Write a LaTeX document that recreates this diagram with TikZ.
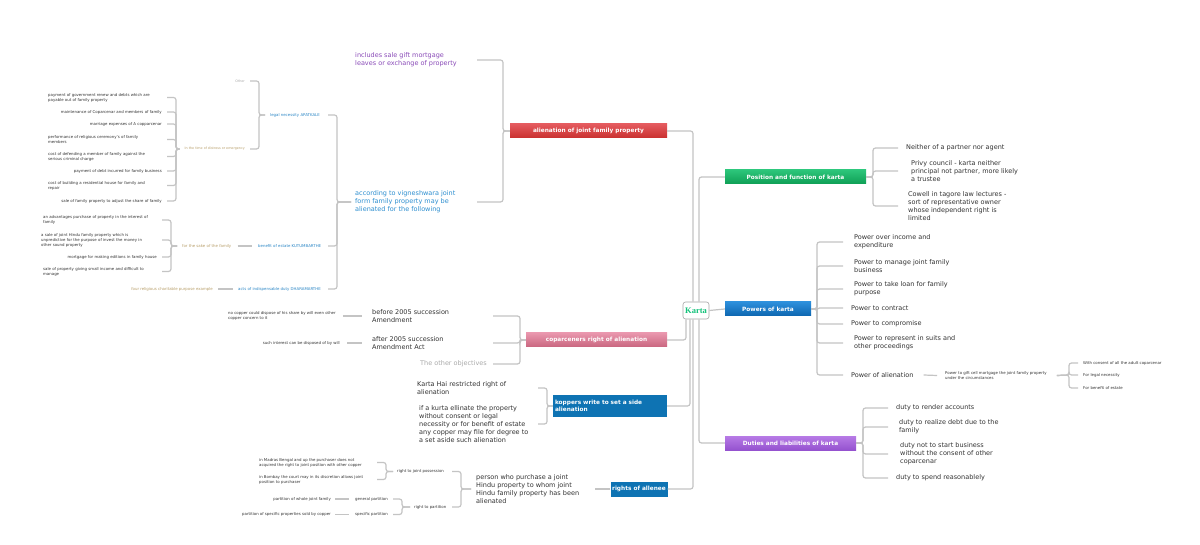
\documentclass[tikz,border=0pt]{standalone}
\usepackage{fontspec}
\setmainfont{DejaVu Sans}
\newfontfamily\kartafont{Liberation Serif}
\definecolor{lineg}{HTML}{C4C4C4}
\definecolor{txt}{HTML}{333333}
\definecolor{purp}{HTML}{8A4BB8}
\definecolor{mblue}{HTML}{2E8FD0}
\definecolor{sblue}{HTML}{2A86C6}
\definecolor{tant}{HTML}{B89F6A}
\definecolor{grayt}{HTML}{AAAAAA}
\definecolor{kgreen}{HTML}{12C27A}
\definecolor{redT}{HTML}{E45A5E}
\definecolor{redB}{HTML}{C9302F}
\definecolor{greenT}{HTML}{2CC57A}
\definecolor{greenB}{HTML}{0F9F55}
\definecolor{blueT}{HTML}{2D8FDB}
\definecolor{blueB}{HTML}{0D66B0}
\definecolor{pinkT}{HTML}{E996AD}
\definecolor{pinkB}{HTML}{C9667F}
\definecolor{kblue}{HTML}{0E73B3}
\definecolor{purpT}{HTML}{B77BE6}
\definecolor{purpB}{HTML}{9552CF}
\tikzset{
 conn/.style={draw=lineg, line width=1.2pt, rounded corners=2.5pt},
 med/.style={font=\fontsize{6.5}{8}\selectfont, text=txt, inner sep=1pt, align=left},
 tiny/.style={font=\fontsize{3.9}{5}\selectfont, text=txt, inner sep=1pt, align=left},
 tinier/.style={font=\fontsize{3.3}{4.5}\selectfont, inner sep=1pt, align=left},
 topic/.style={font=\fontsize{5.8}{7}\selectfont\bfseries, text=white, minimum height=14pt, inner sep=0pt},
 karta/.style={draw=black!35, fill=white, rounded corners=2.5pt, minimum width=26pt, minimum height=17pt, inner sep=0pt, line width=0.6pt, font=\kartafont\bfseries\fontsize{8.5}{9}\selectfont, text=kgreen},
}
\begin{document}
\begin{tikzpicture}[x=1pt,y=-1pt]
\fill[white] (0,0) rectangle (1200,545);
\useasboundingbox (0,0) rectangle (1200,545);

% central and topics
\node[karta] (k) at (696,310.5) {Karta};
\node[topic, minimum width=157pt, top color=redT, bottom color=redB] (al) at (588.5,131) {alienation of joint family property};
\node[topic, minimum width=141pt, top color=greenT, bottom color=greenB] (pos) at (795.5,177) {Position and function of karta};
\node[topic, minimum width=86pt, top color=blueT, bottom color=blueB] (pow) at (768,309) {Powers of karta};
\node[topic, minimum width=141pt, top color=pinkT, bottom color=pinkB] (cop) at (596.5,340) {coparceners right of alienation};
\node[topic, minimum width=114pt, minimum height=22pt, fill=kblue, text width=110pt, inner xsep=2pt, align=left] (kop) at (610,406) {koppers write to set a side\\alienation};
\node[topic, minimum width=131pt, top color=purpT, bottom color=purpB] (dut) at (790.5,443) {Duties and liabilities of karta};
\node[topic, minimum width=57pt, minimum height=15pt, fill=kblue] (ra) at (639,489) {rights of allenee};

\draw[conn] ([xshift=-3pt]k.north) |- (al.east);
\draw[conn] ([xshift=3pt]k.north) |- (pos.west);
\draw[conn] (k.east) -- (pow.west);
\draw[conn] ([xshift=-10pt]k.south) |- (cop.east);
\draw[conn] ([xshift=-6pt]k.south) |- (kop.east);
\draw[conn] ([xshift=-3pt]k.south) |- (ra.east);
\draw[conn] ([xshift=3pt]k.south) |- (dut.west);

% alienation subtree
\coordinate (alB) at (503,131);
\coordinate (alS) at (477,131);
\node[med, text=purp, anchor=west] (inc) at (354,60) {includes sale gift mortgage\\leaves or exchange of property};
\node[med, text=mblue, anchor=west] (acc) at (354,202) {according to vigneshwara joint\\form family property may be\\alienated for the following};
\draw[conn] (al.west) -- (alB) |- (alS |- inc.east);
\draw[conn] (al.west) -- (alB) |- (alS |- acc.east);

\coordinate (accB) at (337,202);
\coordinate (accS) at (328,202);
\node[tiny, text=sblue, anchor=west] (leg) at (269,115) {legal necessity APATKALE};
\node[tiny, text=sblue, anchor=west] (ben) at (257,246) {benefit of estate KUTUMBARTHE};
\node[tiny, text=sblue, anchor=west] (act) at (237,289) {acts of indispensable duty DHARAMARTHE};
\draw[conn] ([xshift=-3pt]acc.west) -- (accB) |- (accS |- leg.east);
\draw[conn] ([xshift=-3pt]acc.west) -- (accB) |- (accS |- ben.east);
\draw[conn] ([xshift=-3pt]acc.west) -- (accB) |- (accS |- act.east);

\coordinate (legB) at (259,115);
\coordinate (legS) at (250,115);
\node[tinier, text=grayt, anchor=east] (oth) at (246,81) {Other};
\node[tinier, text=tant, anchor=east] (dist) at (246,149) {In the time of distress or emergency};
\draw[conn] ([xshift=-4pt]leg.west) -- (legB) |- (legS |- oth.east);
\draw[conn] ([xshift=-4pt]leg.west) -- (legB) |- (legS |- dist.east);

\coordinate (distB) at (176,149);
\coordinate (distS) at (167,149);
\node[tiny, anchor=west] (d1) at (47,97.5) {payment of government renew and debts which are\\payable out of family property};
\node[tiny, anchor=east] (d2) at (163,112) {maintenance of Coparcenar and members of family};
\node[tiny, anchor=east] (d3) at (163,124) {marriage expenses of A copparcenar};
\node[tiny, anchor=west] (d4) at (47,139.5) {performance of religious ceremony's of family\\members};
\node[tiny, anchor=west] (d5) at (47,156.5) {cost of defending a member of family against the\\serious criminal charge};
\node[tiny, anchor=east] (d6) at (163,171) {payment of debt incurred for family business};
\node[tiny, anchor=west] (d7) at (47,185.5) {cost of building a residential house for family and\\repair};
\node[tiny, anchor=east] (d8) at (163,201) {sale of family property to adjust the share of family};
\foreach \c in {d1,d2,d3,d4,d5,d6,d7,d8}
  \draw[conn] ([xshift=-4pt]dist.west) -- (distB) |- (distS |- \c.east);

\node[tiny, text=tant, anchor=west] (sake) at (181,246) {for the sake of the family};
\draw[conn] ([xshift=5pt]sake.east) -- ([xshift=-5pt]ben.west);
\coordinate (sakeB) at (171,246);
\coordinate (sakeS) at (162,246);
\node[tiny, anchor=west] (s1) at (42,220) {an advantages purchase of property in the interest of\\family};
\node[tiny, anchor=west] (s2) at (40,240) {a sale of joint Hindu family property which is\\unpredictive for the purpose of invest the money in\\other sound property};
\node[tiny, anchor=east] (s3) at (158,257) {mortgage for making editions in family house};
\node[tiny, anchor=west] (s4) at (42,271.5) {sale of property giving small income and difficult to\\manage};
\foreach \c in {s1,s2,s3,s4}
  \draw[conn] ([xshift=-4pt]sake.west) -- (sakeB) |- (sakeS |- \c.east);

\node[tiny, text=tant, anchor=east] (four) at (214,289) {four religious charitable purpose example};
\draw[conn] ([xshift=4pt]four.east) -- ([xshift=-4pt]act.west);

% coparceners subtree
\coordinate (copB) at (520,340);
\coordinate (copS) at (493,340);
\node[med, anchor=west] (b05) at (371,316) {before 2005 succession\\Amendment};
\node[med, anchor=west] (a05) at (371,343) {after 2005 succession\\Amendment Act};
\node[med, text=grayt, anchor=west] (oth2) at (419,364) {The other objectives};
\foreach \c in {b05,a05,oth2}
  \draw[conn] (cop.west) -- (copB) |- (copS |- \c.east);
\node[tiny, anchor=west] (n1) at (227,316) {no copper could dispose of his share by will even other\\copper concern to it};
\draw[conn] ([xshift=6pt]n1.east) -- ([xshift=-9pt]b05.west);
\node[tiny, anchor=east] (n2) at (341,343) {such interest can be disposed of by will};
\draw[conn] ([xshift=6pt]n2.east) -- ([xshift=-9pt]a05.west);

% koppers subtree
\coordinate (kopB) at (547,406);
\coordinate (kopS) at (538,406);
\node[med, anchor=west] (kr) at (416,388) {Karta Hai restricted right of\\alienation};
\node[med, anchor=west] (ki) at (418,424) {if a kurta ellinate the property\\without consent or legal\\necessity or for benefit of estate\\any copper may file for degree to\\a set aside such alienation};
\foreach \c in {kr,ki}
  \draw[conn] (kop.west) -- (kopB) |- (kopS |- \c.east);

% rights of allenee subtree
\coordinate (raS) at (595,489);
\node[med, anchor=west] (per) at (475,489) {person who purchase a joint\\Hindu property to whom joint\\Hindu family property has been\\alienated};
\draw[conn] (ra.west) -- (raS);
\coordinate (perB) at (461,489);
\coordinate (perS) at (452,489);
\node[tiny, anchor=west] (jp) at (396,471.5) {right to joint possession};
\node[tiny, anchor=west] (rp) at (413,507) {right to partition};
\foreach \c in {jp,rp}
  \draw[conn] ([xshift=-4pt]per.west) -- (perB) |- (perS |- \c.east);

\coordinate (jpB) at (386,471.5);
\coordinate (jpS) at (377,471.5);
\node[tiny, anchor=west] (m1) at (258,462.5) {in Madras Bengal and up the purchaser does not\\acquired the right to joint position with other copper};
\node[tiny, anchor=west] (m2) at (258,479.5) {in Bombay the court may in its discretion allows joint\\position to purchaser};
\foreach \c in {m1,m2}
  \draw[conn] ([xshift=-3pt]jp.west) -- (jpB) |- (jpS |- \c.east);

\coordinate (rpB) at (402,507);
\coordinate (rpS) at (393,507);
\node[tiny, anchor=west] (gp) at (354,499) {general partition};
\node[tiny, anchor=west] (sp) at (354,514.5) {specific partition};
\foreach \c in {gp,sp}
  \draw[conn] ([xshift=-3pt]rp.west) -- (rpB) |- (rpS |- \c.east);
\node[tiny, anchor=east] (pw) at (332,499) {partition of whole joint family};
\node[tiny, anchor=east] (ps) at (332,514.5) {partition of specific properties sold by copper};
\draw[conn] ([xshift=3pt]pw.east) -- ([xshift=-5pt]gp.west);
\draw[conn] ([xshift=3pt]ps.east) -- ([xshift=-5pt]sp.west);

% position subtree
\coordinate (posB) at (873,177);
\coordinate (posS) at (898,177);
\node[med, anchor=west] (p1) at (905,148) {Neither of a partner nor agent};
\node[med, anchor=west] (p2) at (910,171) {Privy council - karta neither\\principal not partner, more likely\\a trustee};
\node[med, anchor=west] (p3) at (907,206) {Cowell in tagore law lectures -\\sort of representative owner\\whose independent right is\\limited};
\foreach \c in {p1,p2,p3}
  \draw[conn] (pos.east) -- (posB) |- (posS |- \c.west);

% powers subtree
\coordinate (powB) at (817,309);
\coordinate (powS) at (843,309);
\node[med, anchor=west] (w1) at (853,242) {Power over income and\\expenditure};
\node[med, anchor=west] (w2) at (853,266) {Power to manage joint family\\business};
\node[med, anchor=west] (w3) at (853,289) {Power to take loan for family\\purpose};
\node[med, anchor=west] (w4) at (850,308) {Power to contract};
\node[med, anchor=west] (w5) at (850,324) {Power to compromise};
\node[med, anchor=west] (w6) at (853,343) {Power to represent in suits and\\other proceedings};
\node[med, anchor=west] (w7) at (850,375) {Power of alienation};
\foreach \c in {w1,w2,w3,w4,w5,w6,w7}
  \draw[conn] (pow.east) -- (powB) |- (powS |- \c.west);

\node[tiny, anchor=west] (g) at (944,375.5) {Power to gift cell mortgage the joint family property\\under the circumstances};
\draw[conn] ([xshift=9pt]w7.east) -- ([xshift=-7pt]g.west);
\coordinate (gB) at (1069,375);
\coordinate (gS) at (1078,375);
\node[tiny, anchor=west] (h1) at (1082,363) {With consent of all the adult coparcenar};
\node[tiny, anchor=west] (h2) at (1082,375) {For legal necessity};
\node[tiny, anchor=west] (h3) at (1082,388) {For benefit of estate};
\foreach \c in {h1,h2,h3}
  \draw[conn] ([xshift=9pt]g.east) -- (gB) |- (gS |- \c.west);

% duties subtree
\coordinate (dutB) at (863,443);
\coordinate (dutS) at (888,443);
\node[med, anchor=west] (u1) at (895,408) {duty to render accounts};
\node[med, anchor=west] (u2) at (898,427) {duty to realize debt due to the\\family};
\node[med, anchor=west] (u3) at (899,454) {duty not to start business\\without the consent of other\\coparcenar};
\node[med, anchor=west] (u4) at (895,478) {duty to spend reasonablely};
\foreach \c in {u1,u2,u3,u4}
  \draw[conn] (dut.east) -- (dutB) |- (dutS |- \c.west);
\end{tikzpicture}
\end{document}
